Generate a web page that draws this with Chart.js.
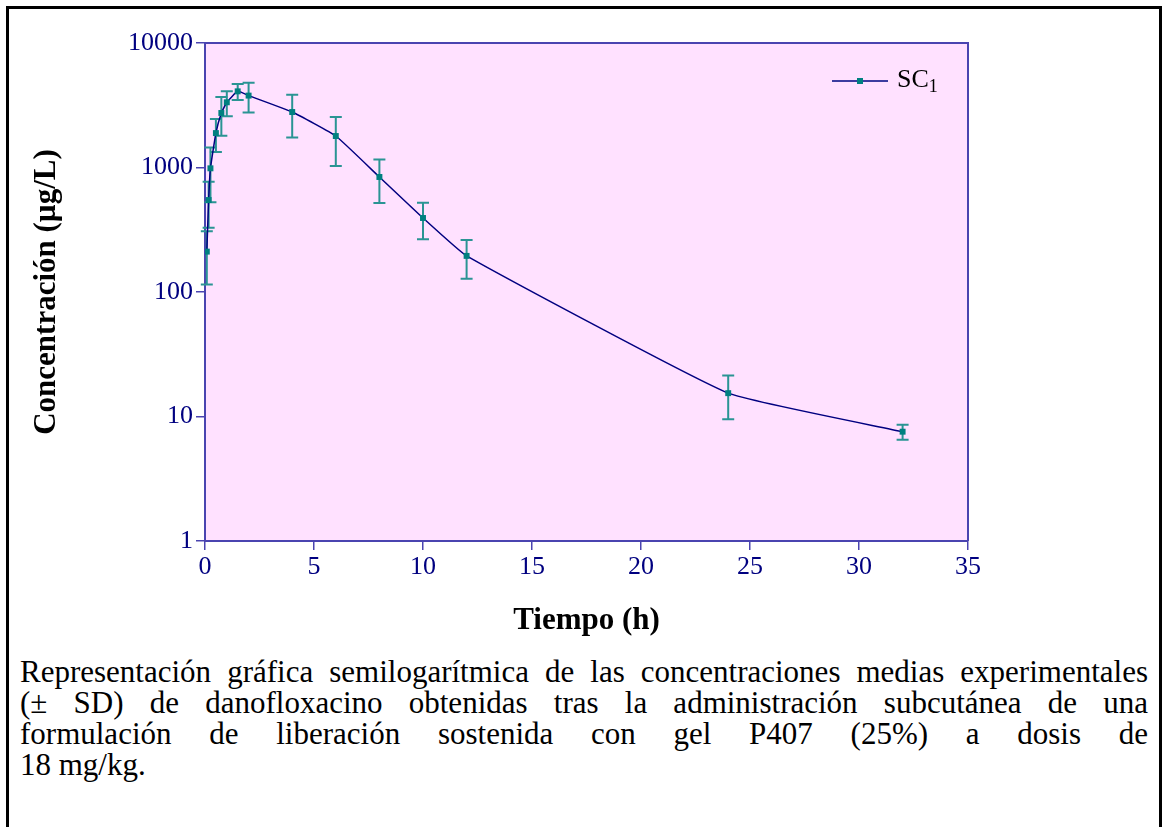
<!DOCTYPE html>
<html>
<head>
<meta charset="utf-8">
<script src="https://cdn.jsdelivr.net/npm/chart.js@4"></script>
<style>
  body { margin:0; background:#fff; width:1165px; height:827px; overflow:hidden; position:relative; font-family:"Liberation Serif","Times New Roman",serif; }
  #frame { position:absolute; left:6px; top:6px; width:1150px; height:900px; border:3px solid #000; }
  #wrap { position:absolute; left:0; top:0; width:1165px; height:650px; }
  #legend { position:absolute; left:832px; top:64px; height:34px; font-family:"Liberation Serif",serif; font-size:26px; color:#000; }
  #legend .ln { position:absolute; left:0; top:16px; width:56px; height:1.5px; background:#3c3ca0; }
  #legend .pt { position:absolute; left:25px; top:14px; width:6px; height:6px; background:#008080; }
  #legend .tx { position:absolute; left:65px; top:0; white-space:nowrap; }
  #legend sub { font-size:18px; vertical-align:-5px; }
  #caption { position:absolute; left:20px; top:656px; width:1128px; font-family:"Liberation Serif",serif; font-size:31px; line-height:31px; color:#000; }
  #caption .j { text-align:justify; text-align-last:justify; white-space:nowrap; }
  #caption .l { text-align:left; white-space:nowrap; }
</style>
</head>
<body>
<div id="frame"></div>
<div id="wrap"><canvas id="myChart" width="1165" height="650"></canvas></div>
<div id="legend"><div class="ln"></div><div class="pt"></div><div class="tx">SC<sub>1</sub></div></div>
<div id="caption">
  <div class="j">Representación gráfica semilogarítmica de las concentraciones medias experimentales</div>
  <div class="j">(± SD) de danofloxacino obtenidas tras la administración subcutánea de una</div>
  <div class="j">formulación de liberación sostenida con gel P407 (25%) a dosis de</div>
  <div class="l">18&nbsp;mg/kg.</div>
</div>
<script>
// data
var timeH = [0.083, 0.167, 0.25, 0.5, 0.75, 1, 1.5, 2, 4, 6, 8, 10, 12, 24, 32];
var concMean = [211, 548, 985, 1890, 2740, 3340, 4090, 3780, 2790, 1790, 839, 393, 195, 15.4, 7.55];
var concSD = [96, 220, 460, 560, 940, 760, 600, 1020, 1050, 760, 320, 128, 67, 5.9, 1.05];
var yTicks = [1, 10, 100, 1000, 10000];
var xTicks = [0, 5, 10, 15, 20, 25, 30, 35];

var navy = '#000080';
var axisCol = '#4a44b0';
var teal = '#008080';
var barCol = '#2a9494';

var plotBg = {
  id: 'plotBg',
  beforeDraw: function(chart){
    var a = chart.chartArea, ctx = chart.ctx;
    ctx.save();
    ctx.fillStyle = '#ffe1ff';
    ctx.fillRect(a.left, a.top, a.right - a.left, a.bottom - a.top);
    ctx.restore();
  },
  afterDraw: function(chart){
    var a = chart.chartArea, ctx = chart.ctx;
    ctx.save();
    ctx.strokeStyle = axisCol;
    ctx.lineWidth = 2;
    ctx.beginPath();
    ctx.moveTo(a.left, a.top);
    ctx.lineTo(a.right, a.top);
    ctx.lineTo(a.right, a.bottom);
    ctx.stroke();
    ctx.restore();
  }
};

var errorBars = {
  id: 'errorBars',
  beforeDatasetsDraw: function(chart){
    var ctx = chart.ctx, xs = chart.scales.x, ys = chart.scales.y;
    ctx.save();
    ctx.strokeStyle = barCol;
    ctx.lineWidth = 2;
    for (var i = 0; i < timeH.length; i++) {
      var px = xs.getPixelForValue(timeH[i]);
      var top = ys.getPixelForValue(concMean[i] + concSD[i]);
      var bot = ys.getPixelForValue(concMean[i] - concSD[i]);
      ctx.beginPath();
      ctx.moveTo(px, top); ctx.lineTo(px, bot);
      ctx.moveTo(px - 6, top); ctx.lineTo(px + 6, top);
      ctx.moveTo(px - 6, bot); ctx.lineTo(px + 6, bot);
      ctx.stroke();
    }
    ctx.restore();
  }
};

var ctx = document.getElementById('myChart').getContext('2d');
var chart = new Chart(ctx, {
  type: 'line',
  data: {
    datasets: [{
      label: 'SC1',
      data: timeH.map(function(t, i){ return {x: t, y: concMean[i]}; }),
      borderColor: navy,
      borderWidth: 1.5,
      tension: 0.12,
      pointStyle: 'rect',
      pointRadius: 4.2,
      pointBackgroundColor: teal,
      pointBorderColor: teal,
      pointBorderWidth: 0,
      fill: false
    }]
  },
  options: {
    responsive: false,
    animation: false,
    devicePixelRatio: 1,
    layout: { padding: { left: 0, right: 197, top: 43, bottom: 0 } },
    plugins: { legend: { display: false }, tooltip: { enabled: false } },
    scales: {
      x: {
        type: 'linear',
        min: 0, max: 35,
        afterFit: function(s){ s.height = 109; },
        afterBuildTicks: function(s){ s.ticks = xTicks.map(function(v){ return {value: v}; }); },
        grid: { drawOnChartArea: false, drawTicks: true, tickLength: 9, color: axisCol, lineWidth: 1.5 },
        border: { color: axisCol, width: 2 },
        ticks: { color: navy, padding: 2, maxRotation: 0, font: { family: 'Liberation Serif', size: 26 } },
        title: { display: true, text: 'Tiempo (h)', color: '#000', padding: { top: 0, bottom: 10 },
                 font: { family: 'Liberation Serif', size: 31, weight: 'bold' } }
      },
      y: {
        type: 'logarithmic',
        min: 1, max: 10000,
        afterFit: function(s){ s.width = 205; },
        afterBuildTicks: function(s){ s.ticks = yTicks.map(function(v){ return {value: v}; }); },
        grid: { drawOnChartArea: false, drawTicks: true, tickLength: 9, color: axisCol, lineWidth: 1.5 },
        border: { color: axisCol, width: 2 },
        ticks: { color: navy, padding: 3, font: { family: 'Liberation Serif', size: 26 },
                 callback: function(v){ return String(v); } },
        title: { display: true, text: 'Concentración (µg/L)', color: '#000', padding: { top: 28, bottom: 0 },
                 font: { family: 'Liberation Serif', size: 31, weight: 'bold' } }
      }
    }
  },
  plugins: [plotBg, errorBars]
});
</script>
</body>
</html>
